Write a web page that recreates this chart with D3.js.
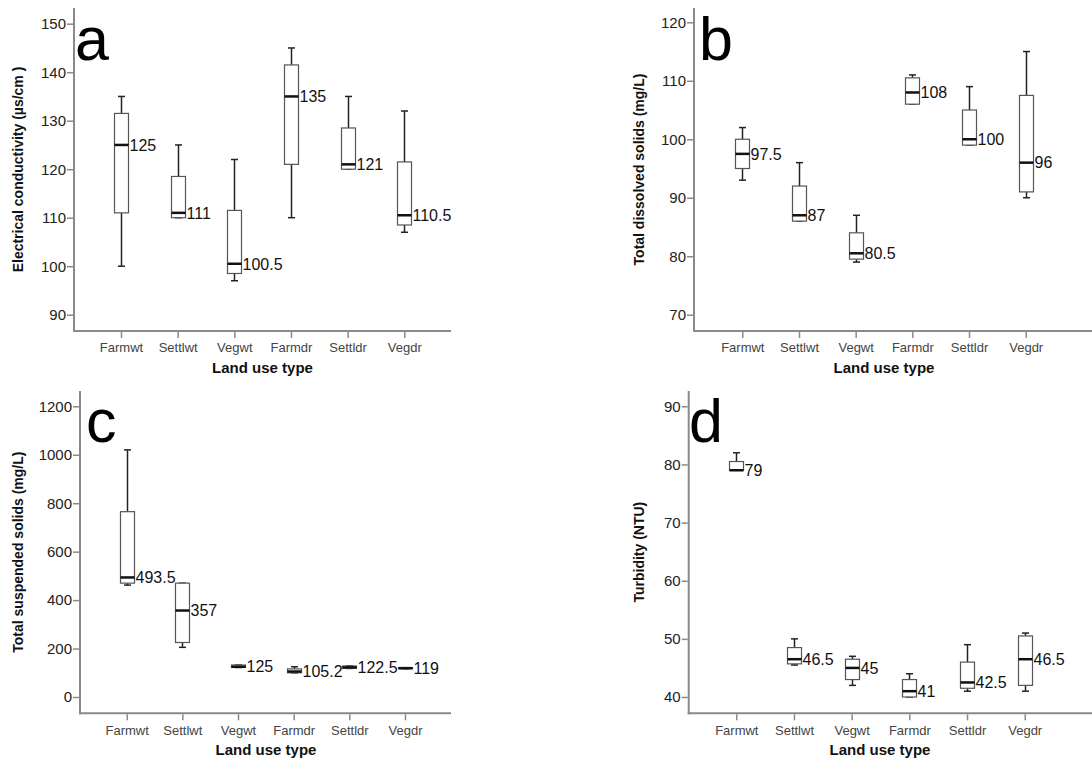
<!DOCTYPE html>
<html>
<head>
<meta charset="utf-8">
<script src="https://cdn.jsdelivr.net/npm/d3@7"></script>
<style>
  html, body { margin: 0; padding: 0; background: #fff; }
  svg { display: block; }
  text { font-family: "Liberation Sans", Arial, sans-serif; }
</style>
</head>
<body>
<svg id="chart" width="1092" height="760"></svg>
<script>
// ---------- DATA ----------
const categories = ["Farmwt", "Settlwt", "Vegwt", "Farmdr", "Settldr", "Vegdr"];

// [min, Q1, median, Q3, max]
const ecBoxes = [
  [100, 111, 125, 131.5, 135],
  [110, 110, 111, 118.5, 125],
  [97, 98.5, 100.5, 111.5, 122],
  [110, 121, 135, 141.5, 145],
  [120, 120, 121, 128.5, 135],
  [107, 108.5, 110.5, 121.5, 132]
];
const ecLabels = ["125", "111", "100.5", "135", "121", "110.5"];
const ecTicks = [90, 100, 110, 120, 130, 140, 150];

const tdsBoxes = [
  [93, 95, 97.5, 100, 102],
  [86, 86, 87, 92, 96],
  [79, 79.5, 80.5, 84, 87],
  [106, 106, 108, 110.5, 111],
  [99, 99, 100, 105, 109],
  [90, 91, 96, 107.5, 115]
];
const tdsLabels = ["97.5", "87", "80.5", "108", "100", "96"];
const tdsTicks = [70, 80, 90, 100, 110, 120];

const tssBoxes = [
  [462, 470, 493.5, 765, 1020],
  [205, 225, 357, 470, 470],
  [122, 122, 125, 132, 132],
  [100, 100, 105.2, 116, 125],
  [118, 118, 122.5, 128, 128],
  [117, 117, 119, 121, 121]
];
const tssLabels = ["493.5", "357", "125", "105.2", "122.5", "119"];
const tssTicks = [0, 200, 400, 600, 800, 1000, 1200];

const turbBoxes = [
  [79, 79, 79, 80.5, 82],
  [45.5, 45.7, 46.5, 48.5, 50],
  [42, 43, 45, 46.5, 47],
  [40, 40, 41, 43, 44],
  [41, 41.5, 42.5, 46, 49],
  [41, 42, 46.5, 50.5, 51]
];
const turbLabels = ["79", "46.5", "45", "41", "42.5", "46.5"];
const turbTicks = [40, 50, 60, 70, 80, 90];

const panelLetters = ["a", "b", "c", "d"];
const yTitles = [
  "Electrical conductivity (µs/cm )",
  "Total dissolved solids (mg/L)",
  "Total suspended solids (mg/L)",
  "Turbidity (NTU)"
];
const xTitle = "Land use type";

// ---------- LAYOUT ----------
const panels = [
  { boxes: ecBoxes, labels: ecLabels, ticks: ecTicks, letter: panelLetters[0], ytitle: yTitles[0],
    axisX: 74, axisTop: 8, xAxisY: 331, xRight: 451, yDom: [90, 150], yRange: [314.7, 23.7],
    catRange: [121, 404.3], letterX: 75, letterY: 60, ytitleX: 23, xtitleX: 262.5, xtitleY: 373 },
  { boxes: tdsBoxes, labels: tdsLabels, ticks: tdsTicks, letter: panelLetters[1], ytitle: yTitles[1],
    axisX: 694, axisTop: 8, xAxisY: 331, xRight: 1092, yDom: [70, 120], yRange: [314.7, 22.3],
    catRange: [742.3, 1025.7], letterX: 699, letterY: 60, ytitleX: 644, xtitleX: 884, xtitleY: 373 },
  { boxes: tssBoxes, labels: tssLabels, ticks: tssTicks, letter: panelLetters[2], ytitle: yTitles[2],
    axisX: 80, axisTop: 391, xAxisY: 713.3, xRight: 451, yDom: [0, 1200], yRange: [697, 406.3],
    catRange: [126.7, 405], letterX: 86, letterY: 442, ytitleX: 23, xtitleX: 266, xtitleY: 755 },
  { boxes: turbBoxes, labels: turbLabels, ticks: turbTicks, letter: panelLetters[3], ytitle: yTitles[3],
    axisX: 688.7, axisTop: 391, xAxisY: 713.3, xRight: 1092, yDom: [40, 90], yRange: [697, 406.3],
    catRange: [736.3, 1024.7], letterX: 689, letterY: 442, ytitleX: 644, xtitleX: 880, xtitleY: 755 }
];

const FONT = "'Liberation Sans', Arial, sans-serif";
const svg = d3.select("#chart");
const axisColor = "#8a8a8a";

panels.forEach(p => {
  const g = svg.append("g").style("font-family", FONT);
  const x = d3.scalePoint().domain(categories).range(p.catRange);
  const y = d3.scaleLinear().domain(p.yDom).range(p.yRange);

  g.append("line")
    .attr("x1", p.axisX).attr("x2", p.axisX)
    .attr("y1", p.axisTop).attr("y2", p.xAxisY + 1)
    .attr("stroke", axisColor).attr("stroke-width", 2);
  g.append("line")
    .attr("x1", p.axisX - 1).attr("x2", p.xRight)
    .attr("y1", p.xAxisY).attr("y2", p.xAxisY)
    .attr("stroke", axisColor).attr("stroke-width", 2);

  const yAxis = d3.axisLeft(y).tickValues(p.ticks).tickSize(6).tickPadding(1).tickFormat(d3.format("d"));
  const ya = g.append("g").attr("transform", `translate(${p.axisX - 1},0)`).call(yAxis)
    .attr("font-family", null).style("font-family", FONT);
  ya.select(".domain").remove();
  ya.selectAll(".tick line").attr("stroke", axisColor).attr("stroke-width", 1.5);
  ya.selectAll(".tick text").attr("font-size", 15).attr("fill", "#222").style("font-family", FONT);

  const xAxis = d3.axisBottom(x).tickSize(6).tickPadding(5);
  const xa = g.append("g").attr("transform", `translate(0,${p.xAxisY + 1})`).call(xAxis)
    .attr("font-family", null).style("font-family", FONT);
  xa.select(".domain").remove();
  xa.selectAll(".tick line").attr("stroke", axisColor).attr("stroke-width", 1.5);
  xa.selectAll(".tick text").attr("font-size", 13).attr("fill", "#444").style("font-family", FONT);

  const bw = 14, cw = 7;
  p.boxes.forEach((b, i) => {
    const cx = Math.round(x(categories[i])) + 0.5;
    const [mn, q1, md, q3, mx] = b;
    if (mx > q3) {
      g.append("line").attr("x1", cx).attr("x2", cx).attr("y1", y(q3)).attr("y2", y(mx))
        .attr("stroke", "#222").attr("stroke-width", 1.5);
    }
    g.append("line").attr("x1", cx - cw / 2).attr("x2", cx + cw / 2).attr("y1", y(mx)).attr("y2", y(mx))
      .attr("stroke", "#222").attr("stroke-width", 1.5);
    if (mn < q1) {
      g.append("line").attr("x1", cx).attr("x2", cx).attr("y1", y(q1)).attr("y2", y(mn))
        .attr("stroke", "#222").attr("stroke-width", 1.5);
    }
    g.append("line").attr("x1", cx - cw / 2).attr("x2", cx + cw / 2).attr("y1", y(mn)).attr("y2", y(mn))
      .attr("stroke", "#222").attr("stroke-width", 1.5);
    g.append("rect")
      .attr("x", cx - bw / 2).attr("y", y(q3))
      .attr("width", bw).attr("height", Math.max(1, y(q1) - y(q3)))
      .attr("fill", "#fff").attr("stroke", "#555").attr("stroke-width", 1.2);
    g.append("line").attr("x1", cx - bw / 2).attr("x2", cx + bw / 2).attr("y1", y(md)).attr("y2", y(md))
      .attr("stroke", "#111").attr("stroke-width", 2.5);
    g.append("text")
      .attr("x", cx + bw / 2 + 1).attr("y", y(md))
      .attr("dy", "0.36em")
      .attr("font-size", 16).attr("fill", "#111")
      .text(p.labels[i]);
  });

  g.append("text")
    .attr("x", p.letterX).attr("y", p.letterY)
    .attr("font-size", 61).attr("fill", "#000")
    .text(p.letter);

  const yMid = (p.axisTop + p.xAxisY) / 2;
  g.append("text")
    .attr("transform", `translate(${p.ytitleX},${yMid}) rotate(-90)`)
    .attr("text-anchor", "middle")
    .attr("font-size", 14).attr("font-weight", "bold").attr("fill", "#111")
    .text(p.ytitle);

  g.append("text")
    .attr("x", p.xtitleX).attr("y", p.xtitleY)
    .attr("text-anchor", "middle")
    .attr("font-size", 15).attr("font-weight", "bold").attr("fill", "#111")
    .text(xTitle);
});
</script>
</body>
</html>
